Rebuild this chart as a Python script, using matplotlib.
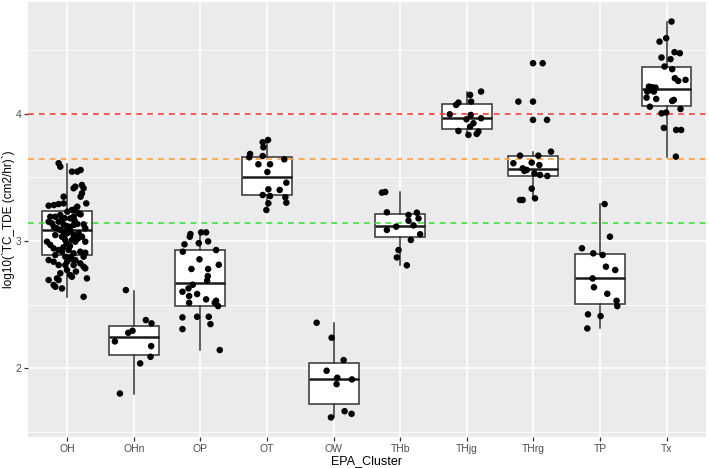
import matplotlib
matplotlib.use("Agg")
import matplotlib.pyplot as plt

plt.rcParams['font.family'] = ['Liberation Sans', 'DejaVu Sans']

categories = ["OH", "OHn", "OP", "OT", "OW", "THb", "THjg", "THrg", "TP", "Tx"]

# box statistics (log10 units)
q1 = [2.89, 2.105, 2.491, 3.362, 1.714, 3.029, 3.879, 3.514, 2.506, 4.065]
medians = [3.086, 2.244, 2.671, 3.506, 1.913, 3.121, 3.966, 3.569, 2.707, 4.197]
q3 = [3.236, 2.333, 2.927, 3.661, 2.043, 3.210, 4.079, 3.672, 2.895, 4.368]
whisker_low = [2.56, 1.80, 2.142, 3.25, 1.617, 2.811, 3.848, 3.349, 2.312, 3.664]
whisker_high = [3.606, 2.609, 3.068, 3.795, 2.353, 3.383, 4.171, 3.70, 3.291, 4.724]

# reference lines
ref_red = 4.0
ref_orange = 3.646
ref_green = 3.139

# jittered observations (value, horizontal jitter in category units)
OH_vals = [3.612, 3.585, 3.546, 3.546, 3.559, 3.428, 3.441, 3.415, 3.415, 3.375, 3.349, 3.349,
           3.278, 3.283, 3.291, 3.296, 3.231, 3.244, 3.252, 3.270, 3.296,
           3.218, 3.210, 3.191, 3.178, 3.205, 3.191, 3.191, 3.152, 3.139, 3.152, 3.165, 3.126,
           3.113, 3.126, 3.134, 3.131, 3.100,
           3.100, 3.087, 3.073, 3.060, 3.081, 3.047, 3.060, 3.034, 3.034, 3.047, 3.008, 3.008,
           2.995, 2.995, 2.995, 2.969, 2.942, 2.929, 2.916, 2.929, 2.903, 2.916, 2.908,
           2.890, 2.877, 2.872, 2.850, 2.877, 2.850, 2.837, 2.811, 2.811, 2.811, 2.824, 2.798,
           2.785, 2.772, 2.746, 2.732, 2.706, 2.693, 2.693, 2.654, 2.640, 2.627, 2.719, 2.706,
           2.561, 3.120, 3.095, 3.070, 3.055, 2.980, 2.960, 2.860, 2.840, 3.180, 3.240, 2.760,
           3.020, 3.110, 2.950, 3.160]
OH_jit = [-0.13, -0.105, 0.07, 0.15, 0.2, 0.12, 0.22, 0.245, 0.095, 0.22, 0.2, -0.055,
          -0.28, -0.2, -0.13, -0.055, 0.0, 0.07, 0.12, 0.15, 0.285,
          0.17, 0.2, 0.095, 0.045, -0.105, -0.18, -0.255, -0.28, -0.23, -0.13, -0.08, -0.055,
          0.02, 0.095, 0.15, 0.245, 0.27,
          -0.155, -0.105, -0.055, -0.005, 0.045, 0.095, 0.17, 0.22, -0.08, -0.18, -0.03, 0.07,
          0.12, 0.27, -0.305, -0.255, -0.205, -0.13, -0.08, 0.02, 0.095, 0.195, 0.27,
          -0.18, -0.03, 0.045, 0.12, 0.245, -0.28, -0.205, -0.13, -0.03, 0.095, 0.195, 0.245,
          0.27, -0.005, -0.105, 0.045, -0.155, -0.28, -0.13, -0.205, -0.18, -0.08, 0.07, 0.295,
          0.245, -0.02, 0.03, 0.01, -0.03, -0.01, 0.04, 0.06, 0.0, -0.04, 0.1, 0.13,
          0.16, -0.2, -0.06, 0.11]
OHn_vals = [2.614, 2.378, 2.352, 2.278, 2.294, 2.210, 2.173, 2.089, 2.037, 1.80]
OHn_jit = [-0.12, 0.18, 0.265, -0.085, -0.02, -0.285, 0.26, 0.25, 0.095, -0.21]
OP_vals = [3.055, 3.034, 3.068, 3.068, 2.974, 2.983, 2.997, 2.929, 2.916,
           2.856, 2.780, 2.780, 2.813, 2.724, 2.688,
           2.656, 2.627, 2.601, 2.567, 2.514, 2.583, 2.530, 2.514, 2.488, 2.541,
           2.399, 2.404, 2.404, 2.346, 2.307, 2.142]
OP_jit = [-0.15, -0.16, 0.01, 0.085, -0.24, -0.025, 0.115, 0.235, -0.265,
          -0.015, -0.135, 0.115, 0.275, 0.11, 0.1,
          -0.115, -0.18, -0.27, -0.17, -0.17, -0.05, 0.235, 0.215, 0.265, 0.085,
          -0.27, -0.05, 0.125, 0.15, -0.27, 0.29]
OT_vals = [3.795, 3.777, 3.738, 3.685, 3.659, 3.669, 3.643, 3.604, 3.604, 3.543,
           3.459, 3.407, 3.402, 3.362, 3.354, 3.344, 3.297, 3.302, 3.244]
OT_jit = [0.015, -0.065, -0.055, -0.255, -0.265, -0.065, 0.26, -0.13, 0.045, 0.005,
          0.29, 0.02, 0.19, -0.065, 0.045, 0.275, 0.02, 0.29, -0.01]
OW_vals = [2.357, 2.239, 2.063, 1.979, 1.924, 1.874, 1.911, 1.661, 1.640, 1.612]
OW_jit = [-0.255, -0.03, 0.15, -0.105, 0.055, 0.045, 0.275, 0.165, 0.27, -0.04]
THb_vals = [3.381, 3.386, 3.226, 3.205, 3.223, 3.178, 3.160, 3.087, 3.113, 3.123,
            3.053, 3.008, 2.929, 2.871, 2.809]
THb_jit = [-0.275, -0.225, -0.2, 0.125, 0.25, 0.275, 0.125, -0.2, -0.06, 0.2,
           0.3, 0.16, -0.025, -0.05, 0.1]
THjg_vals = [4.150, 4.176, 4.097, 4.089, 4.071, 3.997, 3.992, 3.958, 3.966,
             3.927, 3.900, 3.866, 3.835, 3.843, 3.861]
THjg_jit = [0.05, 0.215, 0.065, -0.125, -0.16, -0.255, 0.06, -0.005, 0.215,
            0.1, 0.05, -0.125, 0.025, 0.15, 0.175]
THrg_vals = [4.399, 4.399, 4.097, 4.097, 3.953, 3.953, 3.703, 3.672, 3.672,
             3.612, 3.617, 3.598, 3.572, 3.559, 3.533, 3.520, 3.512, 3.552,
             3.412, 3.336, 3.323, 3.323]
THrg_jit = [-0.005, 0.14, -0.225, -0.005, -0.005, 0.205, 0.265, -0.2, 0.075,
            -0.3, -0.025, 0.09, -0.16, -0.1, 0.015, 0.1, 0.21, -0.135,
            -0.025, 0.025, -0.2, -0.16]
TP_vals = [3.291, 3.034, 2.943, 2.903, 2.890, 2.798, 2.772, 2.706, 2.636, 2.585,
           2.530, 2.488, 2.423, 2.409, 2.312]
TP_jit = [0.07, 0.15, -0.27, -0.10, 0.04, 0.09, 0.23, -0.11, -0.09, 0.11,
          0.25, 0.26, -0.18, 0.01, -0.19]
Tx_vals = [4.727, 4.569, 4.596, 4.486, 4.478, 4.444, 4.431, 4.373, 4.352,
           4.281, 4.260, 4.268, 4.215, 4.210, 4.207, 4.189, 4.176, 4.176, 4.128, 4.118,
           4.102, 4.110, 4.039, 4.057, 4.005, 4.011, 3.890, 3.874, 3.874, 3.664]
Tx_jit = [0.075, -0.105, -0.005, 0.12, 0.2, -0.075, 0.06, -0.03, 0.085,
          0.125, 0.175, 0.285, -0.265, -0.215, -0.165, -0.24, -0.29, -0.19, -0.3, -0.155,
          0.085, 0.11, 0.21, -0.25, -0.075, -0.005, -0.04, 0.145, 0.22, 0.14]

point_vals = [OH_vals, OHn_vals, OP_vals, OT_vals, OW_vals, THb_vals, THjg_vals, THrg_vals, TP_vals, Tx_vals]
point_jit = [OH_jit, OHn_jit, OP_jit, OT_jit, OW_jit, THb_jit, THjg_jit, THrg_jit, TP_jit, Tx_jit]

yticks = [2, 3, 4]
minor_y = [1.5, 2.5, 3.5, 4.5]

fig = plt.figure(figsize=(7.09, 4.68), dpi=100)
ax = fig.add_axes([0.0395, 0.066, 0.956, 0.9295])
ax.set_facecolor("#EBEBEB")
for s in ax.spines.values():
    s.set_visible(False)

n = len(categories)
pos = list(range(n))

# grid
for y in minor_y:
    ax.axhline(y, color="white", lw=0.6, zorder=0)
for y in yticks:
    ax.axhline(y, color="white", lw=1.2, zorder=0)
for x in pos:
    ax.axvline(x, color="white", lw=1.2, zorder=0)

stats = []
for i in range(n):
    stats.append(dict(med=medians[i], q1=q1[i], q3=q3[i],
                      whislo=whisker_low[i], whishi=whisker_high[i], fliers=[]))
ax.bxp(stats, positions=pos, widths=0.75, showcaps=False, showfliers=False,
       patch_artist=True,
       boxprops=dict(facecolor="white", edgecolor="#333333", linewidth=1.1),
       whiskerprops=dict(color="#333333", linewidth=1.1),
       medianprops=dict(color="#1a1a1a", linewidth=1.8),
       zorder=2)

ax.axhline(ref_red, color="#FF3B3B", lw=1.2, ls=(0, (3.5, 3)), zorder=3)
ax.axhline(ref_orange, color="#FFA040", lw=1.2, ls=(0, (3.5, 3)), zorder=3)
ax.axhline(ref_green, color="#40E040", lw=1.2, ls=(0, (3.5, 3)), zorder=3)

for i in range(n):
    xs = [pos[i] + j for j in point_jit[i]]
    ax.scatter(xs, point_vals[i], s=22, color="black", edgecolors="none", zorder=4)

ax.set_xlim(-0.59, n - 1 + 0.59)
ax.set_ylim(1.457, 4.88)
ax.set_xticks(pos)
ax.set_xticklabels(categories)
ax.set_yticks(yticks)
ax.set_yticklabels([str(t) for t in yticks])
ax.tick_params(axis="both", length=3, width=0.9, color="#333333",
               labelcolor="#4D4D4D", labelsize=7.5, pad=2)
ax.set_xlabel("EPA_Cluster", fontsize=9, color="black", va="center")
ax.xaxis.set_label_coords(0.5, -0.055)
ax.set_ylabel("log10(`TC_TDE (cm2/hr)`)", fontsize=8.5, color="black", va="center")
ax.yaxis.set_label_coords(-0.0295, 0.5)

fig.savefig("out.png", dpi=100)
